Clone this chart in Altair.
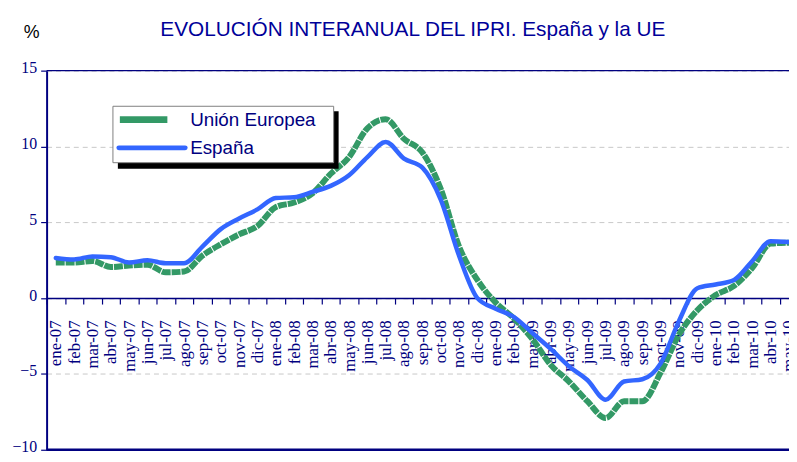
import altair as alt
import pandas as pd

months = ["ene-07", "feb-07", "mar-07", "abr-07", "may-07", "jun-07", "jul-07", "ago-07",
          "sep-07", "oct-07", "nov-07", "dic-07", "ene-08", "feb-08", "mar-08", "abr-08",
          "may-08", "jun-08", "jul-08", "ago-08", "sep-08", "oct-08", "nov-08", "dic-08",
          "ene-09", "feb-09", "mar-09", "abr-09", "may-09", "jun-09", "jul-09", "ago-09",
          "sep-09", "oct-09", "nov-09", "dic-09", "ene-10", "feb-10", "mar-10", "abr-10",
          "may-10"]

ue = [2.35, 2.35, 2.45, 2.05, 2.15, 2.2, 1.7, 1.75,
      2.8, 3.55, 4.2, 4.75, 6.0, 6.3, 6.9, 8.2,
      9.3, 11.2, 11.8, 10.5, 9.6, 7.2, 3.4, 1.2,
      -0.3, -1.35, -2.7, -4.4, -5.5, -6.8, -7.9, -6.8,
      -6.8, -4.9, -2.4, -0.8, 0.2, 0.8, 2.0, 3.6,
      3.65]

es = [2.65, 2.55, 2.75, 2.7, 2.35, 2.5, 2.3, 2.3,
      3.4, 4.55, 5.25, 5.85, 6.6, 6.65, 7.0, 7.4,
      8.1, 9.3, 10.3, 9.2, 8.6, 6.5, 2.8, 0.0,
      -0.7, -1.25, -2.3, -3.35, -4.5, -5.4, -6.7, -5.5,
      -5.35, -4.3, -1.5, 0.65, 0.9, 1.2, 2.45, 3.75,
      3.7]

series_names = ["Unión Europea", "España"]
series_colors = ["#339966", "#3366FF"]
y_ticks = [-10, -5, 0, 5, 10, 15]
frame_values = [15, -10]
frame_widths = [1.2, 2.5]

title_text = "EVOLUCIÓN INTERANUAL DEL IPRI. España y la UE"
unit_text = "%"

rows = []
for name, vals in zip(series_names, [ue, es]):
    for i, (m, v) in enumerate(zip(months, vals)):
        rows.append({"idx": i, "mes": m, "serie": name, "valor": v})
df = pd.DataFrame(rows)

W, H = 750, 383
NAVY = "#000080"
n = len(months)
x_dom = [-0.5, n - 1]
band_px = W / (x_dom[1] - x_dom[0])

x_scale = alt.Scale(domain=x_dom, nice=False, zero=False)
y_scale = alt.Scale(domain=[-10, 15], nice=False, zero=False)
color_scale = alt.Scale(domain=series_names, range=series_colors)

labels_js = "[" + ",".join(f"'{m}'" for m in months) + "]"
tick_vals = [i - 0.5 for i in range(n)]
zero_offset = -(H * 10 / 25)

x_axis = alt.Axis(
    values=tick_vals,
    tickCount=200,
    labelExpr=f"{labels_js}[round(datum.value + 0.5)]",
    labelOffset=band_px / 2,
    labelAngle=-90,
    labelFont="Liberation Serif",
    labelFontSize=17,
    labelColor=NAVY,
    labelPadding=16,
    labelOverlap=False,
    labelBound=False,
    labelFlush=False,
    offset=zero_offset,
    domainColor=NAVY,
    domainWidth=1.5,
    tickColor=NAVY,
    tickWidth=1.2,
    tickSize=6,
    grid=False,
    title=None,
)

y_axis = alt.Axis(
    values=y_ticks,
    labelFont="Liberation Serif",
    labelFontSize=16,
    labelColor=NAVY,
    labelPadding=4,
    labelOffset=-3,
    domainColor=NAVY,
    domainWidth=2,
    tickColor=NAVY,
    tickSize=6,
    tickWidth=1.2,
    grid=True,
    gridColor="#c8c8c8",
    gridDash=[5, 4],
    gridWidth=1,
    title=None,
)

base = alt.Chart(df)

lines_ue = base.transform_filter(alt.datum.serie == series_names[0]).mark_line(
    strokeWidth=6, strokeDash=[9, 1], interpolate="monotone"
).encode(
    x=alt.X("idx:Q", scale=x_scale, axis=x_axis),
    y=alt.Y("valor:Q", scale=y_scale, axis=y_axis),
    color=alt.Color("serie:N", scale=color_scale, legend=None),
)

lines_es = base.transform_filter(alt.datum.serie == series_names[1]).mark_line(
    strokeWidth=4.5, interpolate="monotone", strokeCap="round"
).encode(
    x=alt.X("idx:Q", scale=x_scale),
    y=alt.Y("valor:Q", scale=y_scale),
    color=alt.Color("serie:N", scale=color_scale, legend=None),
)

frame = alt.Chart(pd.DataFrame({"v": frame_values, "w": frame_widths})).mark_rule(
    color=NAVY
).encode(
    y=alt.Y("v:Q", scale=y_scale),
    strokeWidth=alt.StrokeWidth("w:Q", scale=None),
)

one = pd.DataFrame({"s": [1]})

# legend box (decoration) with drop shadow
shadow = alt.Chart(one).mark_rect(color="black").encode(
    x=alt.value(72), x2=alt.value(295), y=alt.value(41), y2=alt.value(99)
)
box = alt.Chart(one).mark_rect(fill="white", stroke="#808080", strokeWidth=1).encode(
    x=alt.value(67), x2=alt.value(290), y=alt.value(36), y2=alt.value(93)
)
sym_ue = alt.Chart(one).mark_rule(color=series_colors[0], strokeWidth=7, strokeCap="butt").encode(
    x=alt.value(74), x2=alt.value(122), y=alt.value(49.5)
)
sym_es = alt.Chart(one).mark_rule(color=series_colors[1], strokeWidth=5, strokeCap="round").encode(
    x=alt.value(73), x2=alt.value(140), y=alt.value(78)
)
leg_texts = []
for k, name in enumerate(series_names):
    leg_texts.append(
        alt.Chart(pd.DataFrame({"t": [name]})).mark_text(
            font="Liberation Sans", fontSize=19, color=NAVY, align="left", baseline="middle"
        ).encode(text="t:N", x=alt.value(145), y=alt.value(49.5 + 28.5 * k))
    )

unit = alt.Chart(pd.DataFrame({"t": [unit_text]})).mark_text(
    font="Liberation Sans", fontSize=18, color="black", align="center", baseline="alphabetic"
).encode(text="t:N", x=alt.value(-15), y=alt.value(-33))

chart = alt.layer(
    frame, lines_ue, lines_es, shadow, box, sym_ue, sym_es, *leg_texts, unit
).properties(
    width=W,
    height=H,
    title=alt.TitleParams(
        text=title_text,
        font="Liberation Sans",
        fontSize=21,
        fontWeight="normal",
        color="#000099",
        anchor="middle",
        frame="group",
        dx=-5,
        dy=20,
    ),
    autosize=alt.AutoSizeParams(type="none"),
    padding={"left": 39, "top": 61, "right": 0, "bottom": 2},
).configure_view(stroke=None)

chart.save("out.html", embed_options={"renderer": "svg", "actions": False})
